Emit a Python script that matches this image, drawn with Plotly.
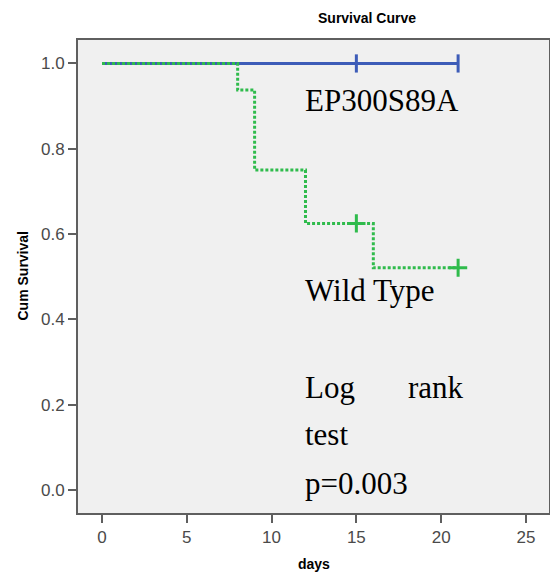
import plotly.graph_objects as go

# --- data ---
mut_times = [0, 21]
mut_surv = [1.0, 1.0]
mut_censor_t = [15, 21]
mut_censor_s = [1.0, 1.0]

wt_times = [0, 8, 9, 12, 16, 21]
wt_surv = [1.0, 0.9375, 0.75, 0.625, 0.521, 0.521]
wt_censor_t = [15, 21]
wt_censor_s = [0.625, 0.521]

x_ticks = [0, 5, 10, 15, 20, 25]
y_ticks = [0.0, 0.2, 0.4, 0.6, 0.8, 1.0]

BLUE = "#3d5cb8"
GREEN = "#2fbb4c"
SANS = "Arial, Liberation Sans, sans-serif"
SERIF = "Times New Roman, Liberation Serif, serif"

fig = go.Figure()
fig.add_trace(go.Scatter(x=mut_times, y=mut_surv, mode="lines", line=dict(color=BLUE, width=3, shape="hv"),
                         showlegend=False, hoverinfo="skip"))
fig.add_trace(go.Scatter(x=mut_censor_t, y=mut_censor_s, mode="markers",
                         marker=dict(symbol="line-ns", size=13, line=dict(color=BLUE, width=3)),
                         showlegend=False))
fig.add_trace(go.Scatter(x=wt_times, y=wt_surv, mode="lines",
                         line=dict(color=GREEN, width=3, shape="hv", dash="3px,2px"),
                         showlegend=False, hoverinfo="skip"))
fig.add_trace(go.Scatter(x=wt_censor_t, y=wt_censor_s, mode="markers",
                         marker=dict(symbol="cross-thin", size=13, line=dict(color=GREEN, width=3)),
                         showlegend=False))

def ann(text, x, y, xanchor="left"):
    fig.add_annotation(text=text, x=x, y=y, xref="x", yref="y", showarrow=False,
                       xanchor=xanchor, yanchor="middle", font=dict(family=SERIF, size=31, color="black"))

ann("EP300S89A", 11.85, 0.912)
ann("Wild Type", 11.85, 0.467)
ann("Log", 11.85, 0.241)
ann("rank", 21.45, 0.241, xanchor="right")
ann("test", 11.85, 0.131)
ann("p=0.003", 11.85, 0.015)

# titles
fig.add_annotation(text="<b>Survival Curve</b>", xref="paper", yref="paper", x=0.614, y=1.0,
                   yshift=22, showarrow=False, xanchor="center", yanchor="middle",
                   font=dict(family=SANS, size=14, color="black"))
fig.add_annotation(text="<b>days</b>", xref="paper", yref="paper", x=0.5, y=0.0,
                   yshift=-51, showarrow=False, xanchor="center", yanchor="middle",
                   font=dict(family=SANS, size=14, color="black"))
fig.add_annotation(text="<b>Cum Survival</b>", xref="paper", yref="paper", x=0.0, y=0.5,
                   xshift=-56, showarrow=False, xanchor="center", yanchor="middle", textangle=-90,
                   font=dict(family=SANS, size=14, color="black"))

axis_common = dict(showline=True, mirror=True, linecolor="#5f5f5f", linewidth=2, automargin=False,
                   showgrid=False, zeroline=False, ticks="outside", ticklen=8, tickwidth=2,
                   tickcolor="#5f5f5f",
                   tickfont=dict(family=SANS, size=17, color="#4a4a4a"))

fig.update_xaxes(range=[-1.415, 26.36], tickvals=x_ticks, ticktext=[str(v) for v in x_ticks],
                 **axis_common)
fig.update_yaxes(range=[-0.054, 1.055], tickvals=y_ticks, ticktext=[f"{v:.1f}" for v in y_ticks],
                 **axis_common)

fig.update_layout(width=550, height=574, margin=dict(l=78, r=1, t=40, b=61),
                  plot_bgcolor="#f0f0f0", paper_bgcolor="white")

fig.write_html("out.html", config={"displayModeBar": False},
               post_script="document.body.style.margin='0';document.body.style.overflow='hidden';")
